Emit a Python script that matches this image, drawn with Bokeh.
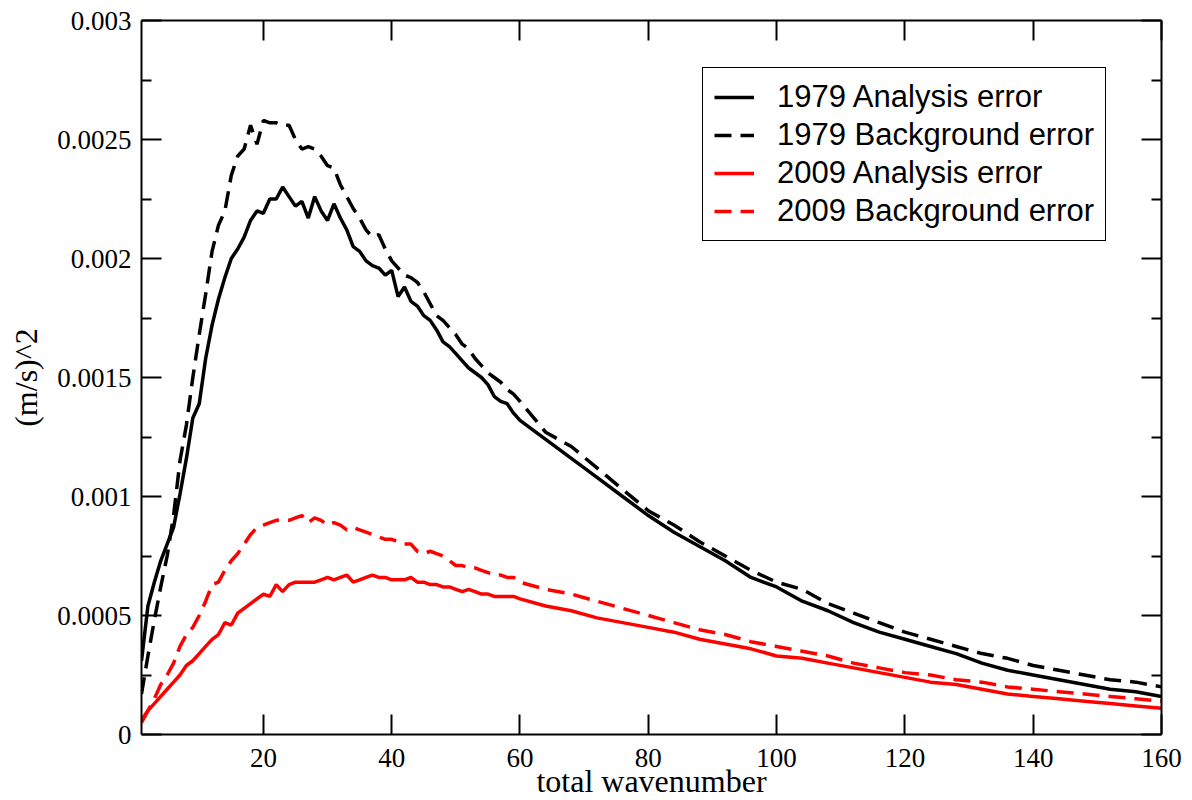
from bokeh.plotting import figure
from bokeh.models import (Legend, LegendItem, LinearAxis, FixedTicker, Range1d,
                          CustomLabelingPolicy)
from bokeh.embed import file_html
from bokeh.resources import INLINE

# total wavenumber (1..60 every integer, then every 4)
wavenumber = list(range(1, 61)) + list(range(64, 161, 4))

analysis_1979 = [
    0.00031, 0.00054, 0.00064, 0.00073, 0.00080, 0.00087, 0.00101, 0.00116, 0.00133, 0.00139,
    0.00158, 0.00172, 0.00183, 0.00192, 0.00200, 0.00204, 0.00209, 0.00216, 0.00220, 0.00219,
    0.00225, 0.00225, 0.00230, 0.00226, 0.00222, 0.00224, 0.00217, 0.00226, 0.00220, 0.00216,
    0.00223, 0.00217, 0.00212, 0.00205, 0.00203, 0.00199, 0.00197, 0.00196, 0.00193, 0.00195,
    0.00184, 0.00188, 0.00182, 0.00180, 0.00176, 0.00174, 0.00170, 0.00165, 0.00163, 0.00160,
    0.00157, 0.00154, 0.00152, 0.00150, 0.00147, 0.00142, 0.00140, 0.00139, 0.00135, 0.00132,
    0.00124, 0.00116, 0.00108, 0.00100, 0.00092, 0.00085, 0.00079, 0.00073, 0.00066, 0.00062,
    0.00056, 0.00052, 0.00047, 0.00043, 0.00040, 0.00037, 0.00034, 0.00030, 0.00027, 0.00025,
    0.00023, 0.00021, 0.00019, 0.00018, 0.00016,
]

background_1979 = [
    0.00017, 0.00033, 0.00048, 0.00062, 0.00075, 0.00092, 0.00115, 0.00130, 0.00150, 0.00168,
    0.00185, 0.00203, 0.00214, 0.00220, 0.00235, 0.00243, 0.00246, 0.00256, 0.00248, 0.00258,
    0.00257, 0.00257, 0.00256, 0.00256, 0.00250, 0.00246, 0.00247, 0.00246, 0.00243, 0.00239,
    0.00238, 0.00231, 0.00226, 0.00221, 0.00217, 0.00212, 0.00209, 0.00210, 0.00204, 0.00199,
    0.00196, 0.00193, 0.00192, 0.00190, 0.00186, 0.00181, 0.00176, 0.00174, 0.00171, 0.00168,
    0.00164, 0.00162, 0.00158, 0.00155, 0.00152, 0.00150, 0.00148, 0.00145, 0.00143, 0.00140,
    0.00127, 0.00121, 0.00112, 0.00103, 0.00094, 0.00088, 0.00081, 0.00075, 0.00069, 0.00064,
    0.00061, 0.00055, 0.00051, 0.00047, 0.00043, 0.00040, 0.00037, 0.00034, 0.00032, 0.00029,
    0.00027, 0.00025, 0.00023, 0.00022, 0.00020,
]

analysis_2009 = [
    0.00005, 0.00010, 0.00013, 0.00016, 0.00019, 0.00022, 0.00025, 0.00029, 0.00031, 0.00034,
    0.00037, 0.00040, 0.00042, 0.00047, 0.00046, 0.00051, 0.00053, 0.00055, 0.00057, 0.00059,
    0.00058, 0.00063, 0.00060, 0.00063, 0.00064, 0.00064, 0.00064, 0.00064, 0.00065, 0.00066,
    0.00065, 0.00066, 0.00067, 0.00064, 0.00065, 0.00066, 0.00067, 0.00066, 0.00066, 0.00065,
    0.00065, 0.00065, 0.00066, 0.00064, 0.00064, 0.00063, 0.00063, 0.00062, 0.00062, 0.00061,
    0.00060, 0.00061, 0.00060, 0.00059, 0.00059, 0.00058, 0.00058, 0.00058, 0.00058, 0.00057,
    0.00054, 0.00052, 0.00049, 0.00047, 0.00045, 0.00043, 0.00040, 0.00038, 0.00036, 0.00033,
    0.00032, 0.00030, 0.00028, 0.00026, 0.00024, 0.00022, 0.00021, 0.00019, 0.00017, 0.00016,
    0.00015, 0.00014, 0.00013, 0.00012, 0.00011,
]

background_2009 = [
    0.00006, 0.00010, 0.00015, 0.00021, 0.00025, 0.00030, 0.00037, 0.00042, 0.00045, 0.00050,
    0.00056, 0.00063, 0.00064, 0.00069, 0.00073, 0.00076, 0.00080, 0.00084, 0.00087, 0.00088,
    0.00089, 0.00090, 0.00090, 0.00090, 0.00091, 0.00092, 0.00089, 0.00091, 0.00090, 0.00088,
    0.00089, 0.00088, 0.00086, 0.00087, 0.00086, 0.00085, 0.00084, 0.00083, 0.00082, 0.00082,
    0.00081, 0.00080, 0.00080, 0.00077, 0.00076, 0.00077, 0.00076, 0.00075, 0.00073, 0.00071,
    0.00071, 0.00070, 0.00070, 0.00069, 0.00068, 0.00067, 0.00067, 0.00066, 0.00066, 0.00064,
    0.00061, 0.00059, 0.00056, 0.00053, 0.00050, 0.00047, 0.00044, 0.00042, 0.00039, 0.00037,
    0.00035, 0.00033, 0.00030, 0.00028, 0.00026, 0.00025, 0.00023, 0.00022, 0.00020, 0.00019,
    0.00018, 0.00017, 0.00016, 0.00015, 0.00014,
]

x_ticks = [20, 40, 60, 80, 100, 120, 140, 160]
y_ticks = [0, 0.0005, 0.001, 0.0015, 0.002, 0.0025, 0.003]
y_tick_labels = ["0", "0.0005", "0.001", "0.0015", "0.002", "0.0025", "0.003"]
y_minor = [0.00025, 0.00075, 0.00125, 0.00175, 0.00225, 0.00275]

series_labels = ["1979 Analysis error", "1979 Background error",
                 "2009 Analysis error", "2009 Background error"]

SERIF = "Liberation Serif"
SANS = "Liberation Sans"

p = figure(frame_width=1020, frame_height=714,
           min_border_left=141, min_border_right=31, min_border_top=20, min_border_bottom=66,
           x_range=Range1d(1, 160), y_range=Range1d(0, 0.003),
           output_backend="svg", toolbar_location=None,
           x_axis_label="total wavenumber", y_axis_label="(m/s)^2")
p.grid.visible = False
p.outline_line_color = None
p.background_fill_color = "white"
p.border_fill_color = "white"

p.add_layout(LinearAxis(), "above")
p.add_layout(LinearAxis(), "right")

for ax in p.xaxis:
    ax.ticker = FixedTicker(ticks=x_ticks, minor_ticks=[])
for ax in p.yaxis:
    ax.ticker = FixedTicker(ticks=y_ticks, minor_ticks=y_minor)
    ax.major_label_overrides = {t: s for t, s in zip(y_ticks, y_tick_labels)}

for ax in p.axis:
    ax.axis_line_width = 2
    ax.axis_line_color = "black"
    ax.major_tick_in = 20
    ax.major_tick_out = 0
    ax.minor_tick_in = 10
    ax.minor_tick_out = 0
    ax.major_tick_line_width = 2
    ax.minor_tick_line_width = 2
    ax.major_tick_line_color = "black"
    ax.minor_tick_line_color = "black"
    ax.major_label_text_font = SERIF
    ax.major_label_text_font_size = "27px"
    ax.major_label_text_color = "black"
    ax.axis_label_text_font = SERIF
    ax.axis_label_text_font_size = "32px"
    ax.axis_label_text_font_style = "normal"
    ax.axis_label_text_color = "black"

# mirrored axes: ticks only, no labels
hide_labels = CustomLabelingPolicy(code="""
    for (const i of Array.from(indices)) { indices.unset(i) }
    return indices
""")
for ax in (p.above[0], p.right[0]):
    ax.major_label_policy = hide_labels
    ax.major_label_text_color = None
    ax.major_label_standoff = 0

p.below[0].major_label_standoff = 14
p.below[0].axis_label_standoff = -7
p.left[0].major_label_standoff = 10
p.left[0].axis_label_standoff = 10

lw = 3.5
r1 = p.line(wavenumber, analysis_1979, line_color="black", line_width=lw)
r2 = p.line(wavenumber, background_1979, line_color="black", line_width=lw, line_dash="17 9")
r3 = p.line(wavenumber, analysis_2009, line_color="#ff0000", line_width=lw)
r4 = p.line(wavenumber, background_2009, line_color="#ff0000", line_width=lw, line_dash="17 9")

legend = Legend(items=[LegendItem(label=l, renderers=[r]) for l, r in
                       zip(series_labels, [r1, r2, r3, r4])],
                location=(561, 493))
legend.label_text_font = SANS
legend.label_text_font_size = "31px"
legend.label_text_color = "black"
legend.glyph_width = 40
legend.glyph_height = 34
legend.label_height = 34
legend.label_standoff = 23
legend.spacing = 2
legend.padding = 11
legend.margin = 0
legend.border_line_color = "black"
legend.border_line_width = 1.5
legend.border_line_alpha = 1
legend.background_fill_color = "white"
legend.background_fill_alpha = 1
p.add_layout(legend, "center")

open("out.html", "w").write(file_html(p, INLINE))
